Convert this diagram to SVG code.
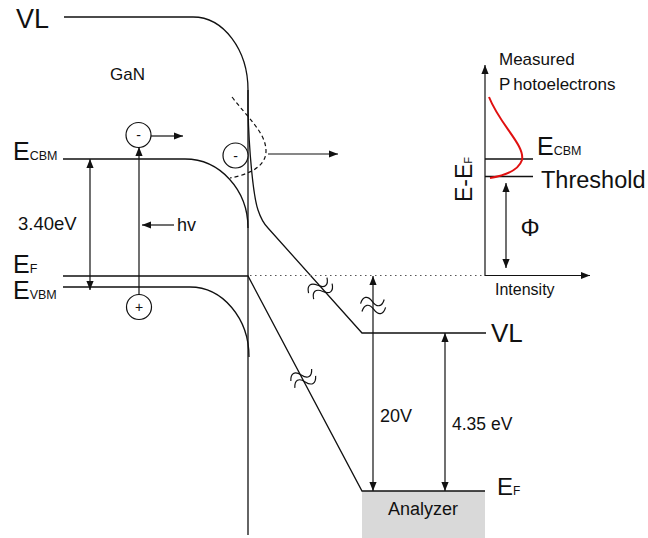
<svg xmlns="http://www.w3.org/2000/svg" width="648" height="538" viewBox="0 0 648 538">
<defs>
<marker id="ah" viewBox="0 0 10 10" refX="10" refY="5" markerWidth="9" markerHeight="9" markerUnits="userSpaceOnUse" orient="auto-start-reverse">
<path d="M0,1 L10,5 L0,9 Z" fill="#111"/>
</marker>
<path id="brk" d="M-12,-3.5 c3.5,-7 8.5,-7 12,0 s8.5,7 12,0 M-12,4.5 c3.5,-7 8.5,-7 12,0 s8.5,7 12,0" fill="none" stroke="#111" stroke-width="1.2"/>
</defs>
<style>
text{font-family:"Liberation Sans",Arial,sans-serif;fill:#111}
.ln{fill:none;stroke:#111;stroke-width:1.3}
.ar{fill:none;stroke:#111;stroke-width:1.2;marker-end:url(#ah)}
.ar2{fill:none;stroke:#111;stroke-width:1.2;marker-start:url(#ah);marker-end:url(#ah)}
.dot{fill:none;stroke:#555;stroke-width:1.2;stroke-dasharray:1.5 3.5}
.dash{fill:none;stroke:#111;stroke-width:1.2;stroke-dasharray:4 3}
.circ{fill:#fff;stroke:#111;stroke-width:1.2}
</style>
<rect width="648" height="538" fill="#fff"/>

<g id="analyzer">
<rect x="362" y="491" width="123" height="47" fill="#d9d9d9"/>
<text x="423" y="515" font-size="18" text-anchor="middle">Analyzer</text>
</g>

<g id="bands">
<path class="ln" d="M64,17 H193 A55,73 0 0 1 248,90 L248,110 C249,150 253,195 258,210 Q262,222 268,228 L362,333 H486"/>
<path class="ln" d="M248,90 V535"/>
<path class="ln" d="M63,159 H185 A63,69 0 0 1 248,228"/>
<path class="ln" d="M63,276 H248 L362,491 H485"/>
<path class="ln" d="M63,287 H190 A59,70 0 0 1 249,357"/>
<path class="dot" d="M250,275.5 H485"/>
<path class="dash" d="M232,97 C248,118 266,133 266,151 C266,168 246,175 230,178"/>
</g>

<g id="labels-left">
<text x="16" y="28" font-size="27">VL</text>
<text x="110" y="80" font-size="17">GaN</text>
<text x="13" y="160" font-size="25">E<tspan font-size="12.5">CBM</tspan></text>
<text x="18" y="230" font-size="18.5">3.40eV</text>
<text x="13" y="273" font-size="25">E<tspan font-size="12.5">F</tspan></text>
<text x="13" y="299" font-size="25">E<tspan font-size="12.5">VBM</tspan></text>
<text x="177" y="231" font-size="18">hv</text>
</g>

<g id="carriers">
<circle class="circ" cx="138.5" cy="135" r="12.5"/>
<text x="138.5" y="140" font-size="14" text-anchor="middle">-</text>
<circle class="circ" cx="139" cy="307" r="12.5"/>
<text x="139" y="312" font-size="14" text-anchor="middle">+</text>
<circle class="circ" cx="235.5" cy="155.5" r="12.5"/>
<text x="235.5" y="160.5" font-size="14" text-anchor="middle">-</text>
</g>

<g id="labels-right">
<text x="491" y="342" font-size="26">VL</text>
<text x="497" y="495" font-size="24">E<tspan font-size="12">F</tspan></text>
<text x="380" y="422" font-size="18">20V</text>
<text x="452" y="430" font-size="17.5">4.35 eV</text>
</g>

<g id="breaks">
<use href="#brk" transform="translate(320,288) rotate(-40)"/>
<use href="#brk" transform="translate(373,305) rotate(-10)"/>
<use href="#brk" transform="translate(303,378) rotate(-30)"/>
</g>

<g id="inset">
<path class="ln" d="M485,176.5 H533 M485,159 H533"/>
<path d="M489,97 C500,125 525,145 522,160 C518,172 502,176 490,178" fill="none" stroke="#e01010" stroke-width="2"/>
<text x="499" y="65" font-size="17">Measured</text>
<text x="499" y="90" font-size="17">P<tspan dx="3">hotoelectrons</tspan></text>
<text x="537" y="155" font-size="25">E<tspan font-size="12.5">CBM</tspan></text>
<text x="541" y="188" font-size="23.5">Threshold</text>
<text x="530" y="236" font-size="24" text-anchor="middle">Φ</text>
<text x="495" y="295" font-size="16">Intensity</text>
<text transform="translate(472,202) rotate(-90)" font-size="23">E-E<tspan font-size="11">F</tspan></text>
</g>

<g id="connectors">
<path class="ar" d="M139,295 V147"/>
<path class="ar" d="M151,136 H183"/>
<path class="ar" d="M174,225 H142"/>
<path class="ar2" d="M90,159 V290"/>
<path class="ar" d="M268,154 H338"/>
<path class="ar2" d="M373,276 V491"/>
<path class="ar2" d="M445,333 V491"/>
<path class="ar" d="M485,276 V65"/>
<path class="ar" d="M485,275.5 H590"/>
<path class="ar2" d="M506,183 V268"/>
</g>
</svg>
